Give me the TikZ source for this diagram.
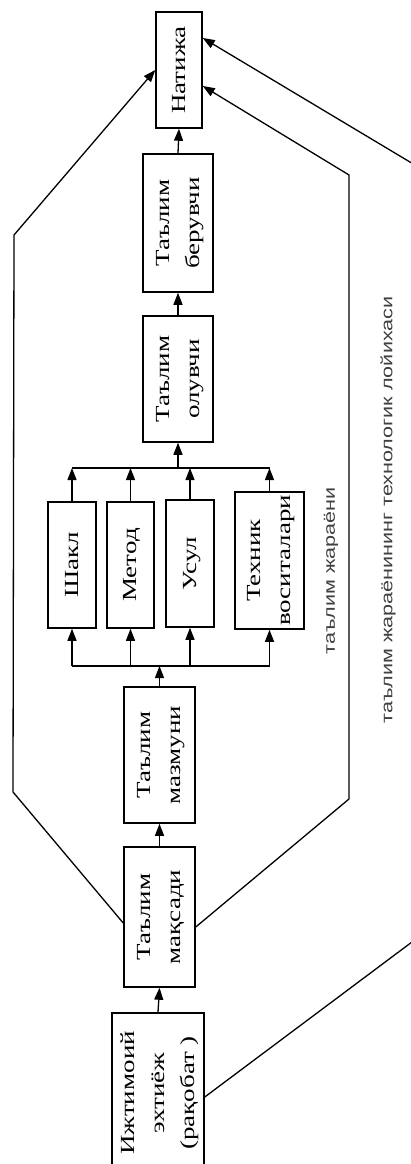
\documentclass[tikz,border=0pt]{standalone}
\usepackage{fontspec}
\setmainfont{Liberation Serif}
\newfontfamily\boxfont[FakeStretch=1.35]{Liberation Serif}
\newfontfamily\labfont[FakeStretch=1.35]{Liberation Sans}
\usetikzlibrary{arrows.meta}
\newcommand{\rt}[1]{\rotatebox{90}{\begin{tabular}{@{}c@{}}#1\end{tabular}}}
\begin{document}
\begin{tikzpicture}[x=1pt,y=-1pt,
  box/.style={draw,line width=1.5pt,inner sep=0pt,font=\boxfont\fontsize{20}{30}\selectfont},
  conn/.style={line width=1.3pt},
  arr/.style={line width=1.3pt,-{Triangle[length=12pt,width=9pt]}},
  lab/.style={rotate=90,font=\labfont\fontsize{16}{18}\selectfont,text=black!75,inner sep=0pt}]
\useasboundingbox (0,0) rectangle (411,1164);
\fill[white] (0,0) rectangle (411,1164);
% boxes
\node[box,minimum width=46pt,minimum height=116pt] (natija) at (179,70) {\rt{Натижа}};
\node[box,minimum width=70pt,minimum height=138pt] (beruvchi) at (178,223) {\rt{Таълим\\берувчи}};
\node[box,minimum width=70pt,minimum height=126pt] (oluvchi) at (178,379) {\rt{Таълим\\олувчи}};
\node[box,minimum width=48pt,minimum height=126pt] (shakl) at (72,565) {\rt{Шакл}};
\node[box,minimum width=47pt,minimum height=126pt] (metod) at (130.5,565) {\rt{Метод}};
\node[box,minimum width=48pt,minimum height=127pt] (usul) at (190,563.5) {\rt{Усул}};
\node[box,minimum width=69pt,minimum height=137pt] (texnik) at (269.5,560.5) {\rt{Техник\\воситалари}};
\node[box,minimum width=71pt,minimum height=136pt] (mazmuni) at (159.5,755) {\rt{Таълим\\мазмуни}};
\node[box,minimum width=71pt,minimum height=140pt] (maqsadi) at (159.5,917) {\rt{Таълим\\мақсади}};
\node[box,minimum width=92pt,minimum height=160pt] (ijtimoiy) at (158,1093) {\rt{Ижтимоий\\эхтиёж\\(рақобат )}};
% labels
\node[lab] (lab1) at (331,571) {таълим жараёни};
\node[lab] (lab2) at (388,510) {таълим жараёнининг технологик лойихаси};
% coordinates
\coordinate (topbus) at (178,468);
\coordinate (botbus) at (159.5,666);
\coordinate (L1) at (13,792);
\coordinate (L2) at (14,235);
\coordinate (R1) at (349,799);
\coordinate (R2) at (349,175);
\coordinate (O1) at (440,921);
\coordinate (O2) at (440,180);
% main chain
\draw[arr] (ijtimoiy.north) -- (maqsadi.south);
\draw[arr] (maqsadi.north) -- (mazmuni.south);
\draw[arr] (mazmuni.north) -- (botbus);
\draw[conn] (shakl.south |- botbus) -- (texnik.south |- botbus);
\foreach \b in {shakl,metod,usul,texnik}{
  \draw[arr] (\b.south |- botbus) -- (\b.south);
  \draw[arr] (\b.north) -- (\b.north |- topbus);
}
\draw[conn] (shakl.north |- topbus) -- (texnik.north |- topbus);
\draw[arr] (topbus) -- (oluvchi.south);
\draw[arr] (oluvchi.north) -- (beruvchi.south);
\draw[arr] (beruvchi.north) -- (natija.south);
% side lines
\draw[arr] ([yshift=-6pt]maqsadi.west) -- (L1) -- (L2) -- (natija.west);
\draw[arr] ([yshift=-10pt]maqsadi.east) -- (R1) -- (R2) -- ([yshift=-16pt]natija.east);
\draw[arr] ([yshift=-4pt]ijtimoiy.east) -- (O1) -- (O2) -- ([yshift=32pt]natija.east);
\end{tikzpicture}
\end{document}
